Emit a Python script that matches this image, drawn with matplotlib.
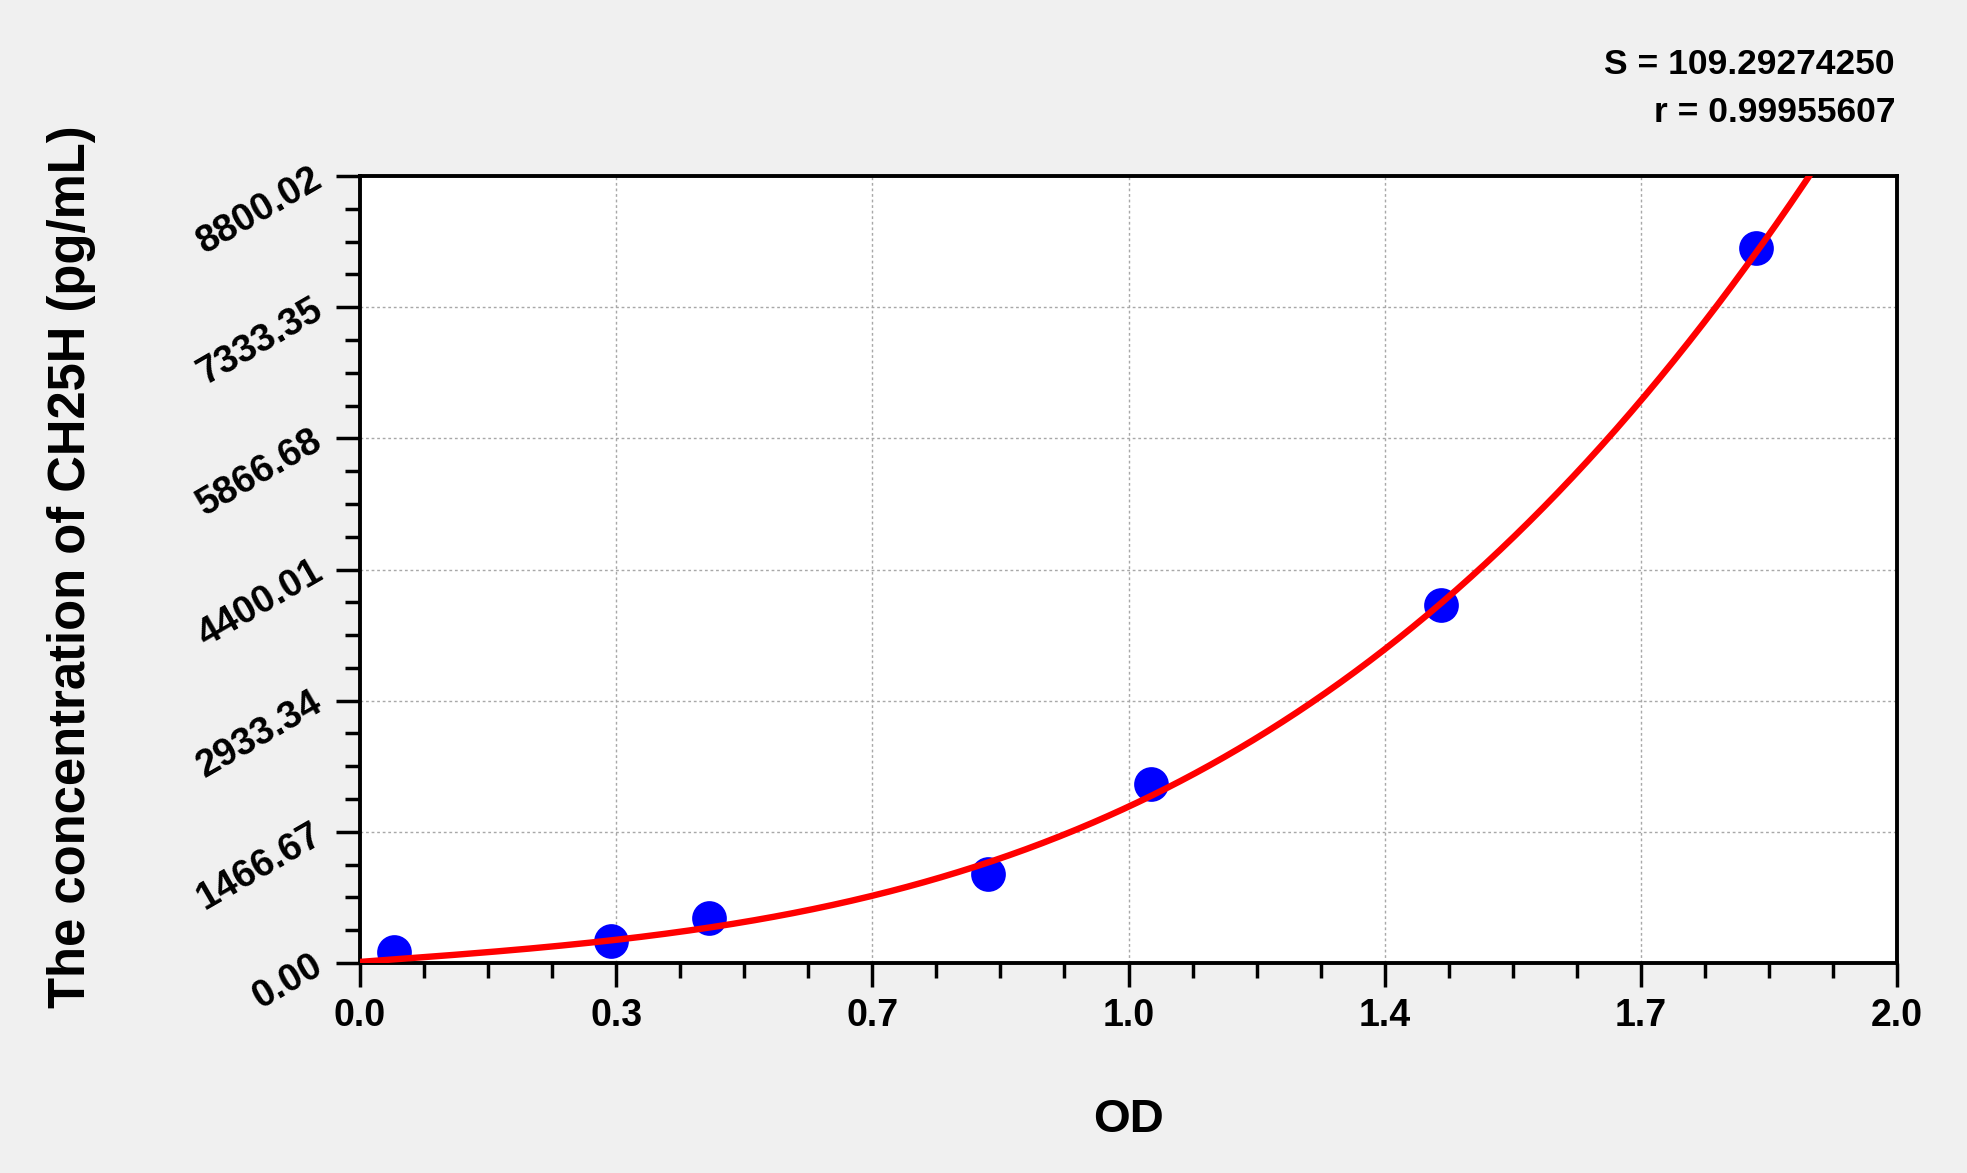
import numpy as np
import matplotlib
matplotlib.use("Agg")
import matplotlib.pyplot as plt
from matplotlib.ticker import AutoMinorLocator, FixedLocator, FixedFormatter
from matplotlib import font_manager

# ---- data ----
# standards (points)
od = [0.045, 0.334, 0.464, 0.836, 1.052, 1.438, 1.857]
conc = [125, 250, 500, 1000, 2000, 4000, 8000]
# fitted curve
curve_od = [0.0, 0.095, 0.19, 0.342, 0.47, 0.594, 0.7185, 0.836, 0.94, 1.051,
            1.162, 1.273, 1.384, 1.517, 1.65, 1.783, 1.857, 1.929]
curve_conc = [16, 56, 139, 267, 426, 574, 835, 1114, 1431, 1878,
              2362, 2940, 3630, 4654, 5772, 7114, 7896, 8829]
x_max = 2.045
y_max = 8800.02
x_tick_labels = ["0.0", "0.3", "0.7", "1.0", "1.4", "1.7", "2.0"]
y_tick_labels = ["0.00", "1466.67", "2933.34", "4400.01", "5866.68", "7333.35", "8800.02"]
stats_lines = ["S = 109.29274250", "r = 0.99955607"]
x_label = "OD"
y_label = "The concentration of CH25H (pg/mL)"

names = {f.name for f in font_manager.fontManager.ttflist}
base_font = "Liberation Sans" if "Liberation Sans" in names else "DejaVu Sans"
narrow_font = "Liberation Sans Narrow" if "Liberation Sans Narrow" in names else base_font
plt.rcParams['font.family'] = [base_font, 'DejaVu Sans']

fig = plt.figure(figsize=(19.67, 11.73), dpi=100, facecolor="#f0f0f0")
ax = fig.add_axes([360/1967, 1-963/1173, (1897-360)/1967, (963-176)/1173])
ax.set_facecolor("white")

# smooth the read curve with a cubic least-squares polynomial
coef = np.polyfit(curve_od, curve_conc, 3)
xs = np.linspace(0, max(curve_od), 600)
ax.plot(xs, np.polyval(coef, xs), color="#ff0000", lw=4.6, zorder=3, solid_capstyle="round")
ax.plot(od, conc, "o", color="#0000ff", ms=25, mec="none", zorder=2)

ax.set_xlim(0, x_max)
ax.set_ylim(0, y_max)
xt = np.linspace(0, x_max, 7)
yt = np.linspace(0, y_max, 7)
ax.xaxis.set_major_locator(FixedLocator(xt))
ax.xaxis.set_major_formatter(FixedFormatter(x_tick_labels))
ax.yaxis.set_major_locator(FixedLocator(yt))
ax.yaxis.set_major_formatter(FixedFormatter(y_tick_labels))
ax.xaxis.set_minor_locator(AutoMinorLocator(4))
ax.yaxis.set_minor_locator(AutoMinorLocator(4))

ax.grid(True, which="major", color="#a8a8a8", linestyle=(0, (2, 2)), linewidth=1.0, zorder=0)
for s in ax.spines.values():
    s.set_linewidth(2.8)
    s.set_color("black")

ax.tick_params(which="major", length=17, width=2.5, direction="out", color="black")
ax.tick_params(which="minor", length=11, width=2.5, direction="out", color="black")
ax.tick_params(axis="x", which="major", pad=8, labelsize=27)
ax.tick_params(axis="y", which="major", pad=12, labelsize=27.5)
for lab in ax.get_xticklabels():
    lab.set_fontweight("bold")
for lab in ax.get_yticklabels():
    lab.set_fontweight("bold")
    lab.set_rotation(30)
    lab.set_rotation_mode("anchor")
    lab.set_ha("right")
    lab.set_va("center")

ax.set_xlabel(x_label, fontsize=34, fontweight="bold", labelpad=46)
fig.text(72/1967, 1-567/1173, y_label, rotation=90, fontsize=36.5, fontweight="bold",
         ha="center", va="center")

fig.text(1895/1967, 1-64/1173, stats_lines[0], fontsize=25.5, fontweight="bold",
         ha="right", va="center", family=[narrow_font, 'DejaVu Sans'])
fig.text(1895/1967, 1-113/1173, stats_lines[1], fontsize=25.5, fontweight="bold",
         ha="right", va="center", family=[narrow_font, 'DejaVu Sans'])

fig.savefig("out.png", dpi=100, facecolor=fig.get_facecolor())
